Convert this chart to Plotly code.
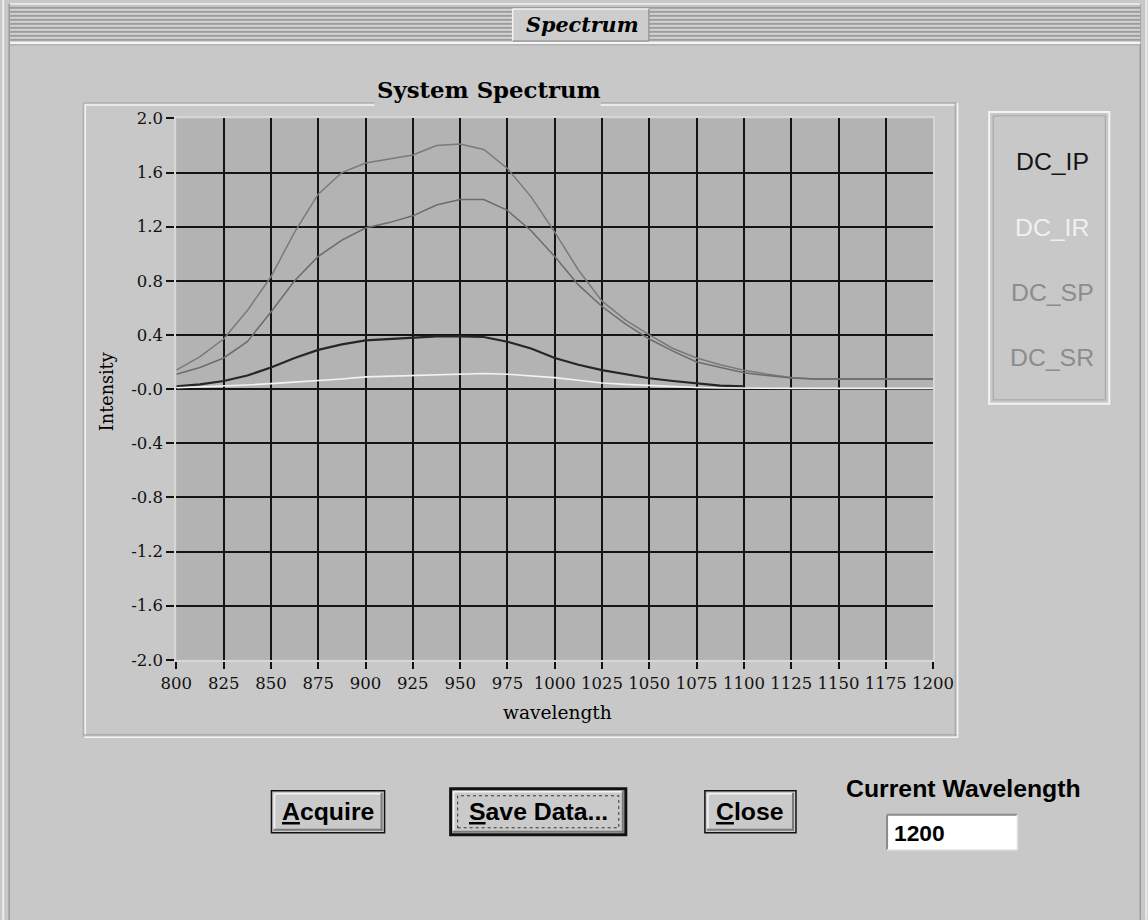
import plotly.graph_objects as go

W, H = 1148, 920

# ---------------- data ----------------
wavelength = [800, 812.5, 825, 837.5, 850, 862.5, 875, 887.5, 900, 912.5, 925, 937.5,
              950, 962.5, 975, 987.5, 1000, 1012.5, 1025, 1037.5, 1050, 1062.5, 1075,
              1087.5, 1100, 1112.5, 1125, 1137.5, 1150, 1175, 1200]

dc_ip = [0.02, 0.035, 0.06, 0.10, 0.16, 0.23, 0.29, 0.33, 0.36, 0.37, 0.38, 0.39,
         0.39, 0.385, 0.35, 0.30, 0.23, 0.18, 0.14, 0.11, 0.08, 0.06, 0.04,
         0.025, 0.02, None, None, None, None, None, None]

dc_ir = [0.01, 0.015, 0.025, 0.03, 0.04, 0.05, 0.06, 0.075, 0.09, 0.095, 0.10, 0.11,
         0.115, 0.115, 0.11, 0.10, 0.085, 0.065, 0.045, 0.035, 0.027, 0.018, 0.012,
         0.008, 0.006, 0.005, 0.005, 0.005, 0.005, 0.005, 0.005]

dc_sp = [0.14, 0.24, 0.37, 0.58, 0.83, 1.16, 1.44, 1.60, 1.67, 1.70, 1.73, 1.80,
         1.81, 1.77, 1.63, 1.42, 1.16, 0.88, 0.65, 0.51, 0.40, 0.30, 0.23,
         0.18, 0.14, 0.11, 0.085, 0.074, 0.074, 0.074, 0.074]

dc_sr = [0.11, 0.16, 0.23, 0.35, 0.57, 0.80, 0.98, 1.10, 1.19, 1.23, 1.28, 1.36,
         1.40, 1.40, 1.32, 1.17, 0.98, 0.77, 0.61, 0.48, 0.37, 0.28, 0.20,
         0.16, 0.12, 0.10, 0.082, 0.074, 0.074, 0.074, 0.074]

series_names = ["DC_IP", "DC_IR", "DC_SP", "DC_SR"]
series_values = [dc_ip, dc_ir, dc_sp, dc_sr]

x_tick_vals = [800, 825, 850, 875, 900, 925, 950, 975, 1000, 1025, 1050, 1075,
               1100, 1125, 1150, 1175, 1200]
y_tick_vals = [2.0, 1.6, 1.2, 0.8, 0.4, 0.0, -0.4, -0.8, -1.2, -1.6, -2.0]
y_tick_text = ["2.0", "1.6", "1.2", "0.8", "0.4", "-0.0", "-0.4", "-0.8", "-1.2", "-1.6", "-2.0"]

button_labels = ["<u>A</u>cquire", "<u>S</u>ave Data...", "<u>C</u>lose"]
current_wavelength = "1200"

# ---------------- styles ----------------
line_colors = ["#262626", "#f2f2f2", "#7a7a7a", "#6c6c6c"]
line_widths = [2.2, 1.6, 1.5, 1.5]
legend_colors = ["#141414", "#f0f0f0", "#8c8c8c", "#8c8c8c"]
BG = "#c8c8c8"
PLOT_BG = "#b3b3b3"
SERIF = "DejaVu Serif"
SANS = "Liberation Sans, Arial, sans-serif"

# layout positions are given in screen pixels; these map them onto the page
SX, OX = 0.9668, 15.8
SY, OY = 0.9795, 9.1
FS = 1.0 / SX

fig = go.Figure()
for name, vals, col, lw in zip(series_names, series_values, line_colors, line_widths):
    fig.add_trace(go.Scatter(x=wavelength, y=vals, mode="lines", name=name,
                             line=dict(color=col, width=lw), showlegend=False))


def px(x):
    return ((x - OX) / SX) / W


def py(y):
    return 1 - ((y - OY) / SY) / H


shapes = []


def hline(x0, x1, y, color, width=1, dash="solid"):
    shapes.append(dict(type="line", xref="paper", yref="paper", x0=px(x0), x1=px(x1),
                       y0=py(y), y1=py(y), line=dict(color=color, width=width, dash=dash)))


def vline(x, y0, y1, color, width=1, dash="solid"):
    shapes.append(dict(type="line", xref="paper", yref="paper", x0=px(x), x1=px(x),
                       y0=py(y0), y1=py(y1), line=dict(color=color, width=width, dash=dash)))


def rect(x0, y0, x1, y1, fill=None, color=None, width=0, dash="solid"):
    d = dict(type="rect", xref="paper", yref="paper", x0=px(x0), x1=px(x1),
             y0=py(y1), y1=py(y0), line=dict(width=width, dash=dash))
    if color:
        d["line"]["color"] = color
    else:
        d["line"]["width"] = 0
    if fill:
        d["fillcolor"] = fill
    shapes.append(d)


# window borders
vline(3, 0, 920, "#ececec", 2)
vline(9, 4, 920, "#9a9a9a", 1.5)
vline(1139, 4, 920, "#9a9a9a", 1.5)
vline(1145, 0, 920, "#ececec", 2)

# title bar stripes
rect(10, 5, 1139, 41, fill="#c2c2c2")
hline(10, 1139, 4, "#f0f0f0", 1.5)
for k in range(9):
    yy = 8 + 4 * k
    hline(10, 1139, yy, "#8e8e8e", 1.2)
    hline(10, 1139, yy + 2, "#dadada", 1)
hline(10, 1139, 43, "#f6f6f6", 2)
hline(10, 1139, 45, "#a8a8a8", 1)

# "Spectrum" title box
rect(512, 9, 648, 41, fill="#cdcdcd")
hline(512, 648, 9, "#f2f2f2", 1.5)
vline(512, 9, 41, "#f2f2f2", 1.5)
hline(512, 648, 41, "#9a9a9a", 1.5)
vline(648, 9, 41, "#9a9a9a", 1.5)

# graph panel (etched border)
for (xa, xb) in [(84, 374), (600, 955)]:
    hline(xa, xb, 103, "#a6a6a6", 1)
    hline(xa, xb, 105, "#f4f4f4", 1.5)
vline(83, 103, 737, "#a6a6a6", 1)
vline(85, 105, 735, "#f4f4f4", 1.5)
hline(84, 956, 735, "#a6a6a6", 1.2)
hline(84, 957, 737.5, "#f4f4f4", 1.5)
vline(954, 103, 736, "#a6a6a6", 1.2)
vline(956.5, 103, 738, "#f4f4f4", 1.5)

# legend box
rect(988, 112, 1108, 404, color="#f4f4f4", width=2)
rect(992, 116, 1104, 400, color="#a4a4a4", width=1)


def button(x0, y0, x1, y1, default=False):
    rect(x0, y0, x1, y1, fill="#cacaca", color="#111111", width=3 if default else 1.5)
    hline(x0 + 3, x1 - 3, y0 + 3, "#f4f4f4", 1.5)
    vline(x0 + 3, y0 + 3, y1 - 3, "#f4f4f4", 1.5)
    hline(x0 + 2, x1 - 2, y1 - 3, "#7a7a7a", 2)
    vline(x1 - 3, y0 + 2, y1 - 2, "#7a7a7a", 2)
    if default:
        rect(x0 + 7, y0 + 7, x1 - 7, y1 - 7, color="#333333", width=1, dash="dot")


button_boxes = [(271, 791, 384, 833, False), (450, 789, 625, 835, True), (704, 791, 795, 833, False)]
for b in button_boxes:
    button(*b)

# numeric text box
rect(886, 815, 1016, 850, fill="#ffffff")
hline(886, 1016, 815, "#8a8a8a", 2)
vline(886, 815, 850, "#8a8a8a", 2)
hline(886, 1016, 850, "#e8e8e8", 1.5)
vline(1016, 815, 850, "#e8e8e8", 1.5)

annotations = []


def text(x, y, s, size, color="#000000", family=SANS, angle=0, xanchor="center"):
    annotations.append(dict(x=px(x), y=py(y), xref="paper", yref="paper", text=s,
                            showarrow=False, xanchor=xanchor, yanchor="middle",
                            textangle=angle,
                            font=dict(family=family, size=round(size * FS, 1), color=color)))


text(582, 25, "<b><i>Spectrum</i></b>", 20, family=SERIF)
text(488, 90, "<b>System Spectrum</b>", 22, family=SERIF)
text(557, 713, "wavelength", 18, family=SERIF)
text(107, 392, "Intensity", 17, family=SERIF, angle=-90)

legend_y = [162, 228, 293, 358]
for name, col, yy in zip(series_names, legend_colors, legend_y):
    text(1051, yy, name, 24, color=col)

centers = [(327.5, 812), (537.5, 812), (749.5, 812)]
for lab, (cx, cy) in zip(button_labels, centers):
    text(cx, cy, "<b>" + lab + "</b>", 24)

text(962, 789, "<b>Current Wavelength</b>", 24)
text(891, 833, "<b>" + current_wavelength + "</b>", 22, xanchor="left")

tick_font = dict(family=SERIF, size=round(16 * FS, 1), color="#111111")

fig.update_layout(
    width=W, height=H,
    margin=dict(l=0, r=0, t=0, b=0),
    paper_bgcolor=BG,
    plot_bgcolor=PLOT_BG,
    showlegend=False,
    shapes=shapes,
    annotations=annotations,
    xaxis=dict(domain=[px(176), px(932)], range=[800, 1200], tickmode="array",
               tickvals=x_tick_vals, ticks="outside", ticklen=7, tickwidth=1.5,
               tickcolor="#111111", showgrid=True, gridcolor="#141414", gridwidth=2,
               zeroline=False, showline=True, linecolor="#d6d6d6", linewidth=2,
               mirror=True, tickfont=tick_font, fixedrange=True),
    yaxis=dict(domain=[py(660), py(118.5)], range=[-2, 2], tickmode="array",
               tickvals=y_tick_vals, ticktext=y_tick_text, ticks="outside", ticklen=8,
               tickwidth=1.5, tickcolor="#111111", showgrid=True, gridcolor="#141414",
               gridwidth=2, zeroline=True, zerolinecolor="#141414", zerolinewidth=2,
               showline=True, linecolor="#d6d6d6", linewidth=2, mirror=True,
               tickfont=tick_font, fixedrange=True),
)

fig.write_html(
    "out.html",
    config={"displayModeBar": False},
    post_script="document.body.style.margin='0';document.body.style.padding='0';"
                "document.body.style.overflow='hidden';"
                "document.documentElement.style.overflow='hidden';",
)
